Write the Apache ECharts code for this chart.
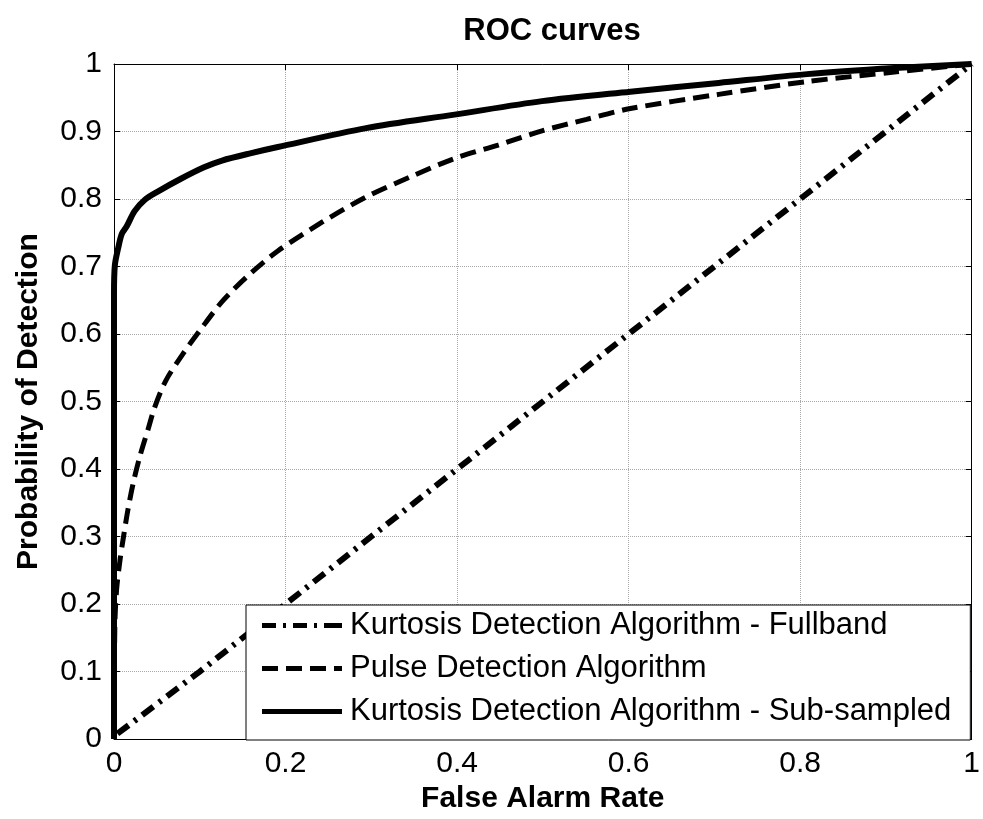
<!DOCTYPE html>
<html>
<head>
<meta charset="utf-8">
<script src="https://cdn.jsdelivr.net/npm/echarts@6/dist/echarts.min.js"></script>
<style>html,body{margin:0;padding:0;background:#fff}#c{width:983px;height:819px}</style>
</head>
<body>
<div id="c"></div>
<script>
const xTicks = [0, 0.2, 0.4, 0.6, 0.8, 1];
const yTicks = [0, 0.1, 0.2, 0.3, 0.4, 0.5, 0.6, 0.7, 0.8, 0.9, 1];
const seriesNames = [
  'Kurtosis Detection Algorithm - Fullband',
  'Pulse Detection Algorithm',
  'Kurtosis Detection Algorithm - Sub-sampled'
];
// Kurtosis Fullband (dash-dot)
const fullbandFA = [0.004, 0.1, 0.2, 0.4, 0.6, 0.8, 1.0];
const fullbandPD = [0.008, 0.1, 0.2, 0.4, 0.6, 0.8, 1.0];
// Pulse Detection (dashed)
const pulseFA = [0, 0.001, 0.003, 0.007, 0.011, 0.016, 0.022, 0.030, 0.040, 0.047, 0.060, 0.080, 0.100, 0.126, 0.155, 0.191, 0.243, 0.294, 0.346, 0.397, 0.448, 0.499, 0.551, 0.602, 0.705, 0.808, 0.910, 1.0];
const pulsePD = [0, 0.168, 0.221, 0.265, 0.299, 0.338, 0.377, 0.418, 0.460, 0.490, 0.530, 0.570, 0.605, 0.648, 0.685, 0.723, 0.766, 0.803, 0.833, 0.860, 0.880, 0.901, 0.918, 0.934, 0.955, 0.974, 0.988, 1.0];
// Kurtosis Sub-sampled (solid)
const subFA = [0, 0, 0, 0.001, 0.005, 0.009, 0.015, 0.024, 0.036, 0.051, 0.078, 0.105, 0.126, 0.160, 0.191, 0.294, 0.397, 0.499, 0.602, 0.705, 0.808, 0.910, 1.0];
const subPD = [0, 0.35, 0.66, 0.702, 0.728, 0.748, 0.760, 0.782, 0.799, 0.811, 0.830, 0.847, 0.857, 0.868, 0.877, 0.905, 0.925, 0.945, 0.959, 0.972, 0.985, 0.994, 1.0];

const zip = (a, b) => a.map((v, i) => [v, b[i]]);
const FONT = 'Liberation Sans';

// legend sample icons (80 x 5 boxes)
const iconDashDot = 'path://M0,0h14v5h-14z M21,0h3v5h-3z M31,0h14v5h-14z M52,0h3v5h-3z M62,0h18v5h-18z';
const iconDashed = 'path://M0,0h16v5h-16z M24,0h16v5h-16z M48,0h16v5h-16z M72,0h8v5h-8z';
const iconSolid = 'path://M0,0h80v5h-80z';

const chart = echarts.init(document.getElementById('c'), null, {renderer: 'canvas'});
const baseAxis = {
  min: 0, max: 1, interval: 0.1,
  axisLine: {show: true, onZero: false, lineStyle: {color: '#000', width: 1}},
  axisTick: {show: true, inside: true, length: 6, lineStyle: {color: '#000', width: 1}},
  splitLine: {show: false}
};
chart.setOption({
  animation: false,
  backgroundColor: '#fff',
  title: {
    text: 'ROC curves', left: 547, top: 11, textAlign: 'center',
    textStyle: {fontFamily: FONT, fontWeight: 'bold', fontSize: 31, color: '#000'}
  },
  grid: {left: 114, top: 64, width: 867, height: 684, containLabel: false},
  legend: {
    orient: 'vertical', left: 246, top: 605,
    data: [
      {name: seriesNames[0], icon: iconDashDot},
      {name: seriesNames[1], icon: iconDashed},
      {name: seriesNames[2], icon: iconSolid}
    ],
    backgroundColor: '#fff', borderColor: '#000', borderWidth: 1, borderRadius: 0,
    padding: [5, 19, 13, 16],
    itemWidth: 80, itemHeight: 5, itemGap: 12,
    itemStyle: {color: '#000', borderWidth: 0},
    textStyle: {fontFamily: FONT, fontSize: 31, color: '#000', lineHeight: 30, padding: [0, 0, 0, 3]},
    selectedMode: false
  },
  xAxis: [
    Object.assign({}, baseAxis, {
      type: 'value', position: 'bottom', interval: 0.2,
      name: 'False Alarm Rate', nameLocation: 'middle', nameGap: 40,
      nameTextStyle: {fontFamily: FONT, fontWeight: 'bold', fontSize: 30, color: '#000'},
      axisLabel: {show: true, margin: 10, fontFamily: FONT, fontSize: 30, color: '#000',
        formatter: v => xTicks.includes(+v.toFixed(1)) ? String(+v.toFixed(1)) : ''},
      splitLine: {show: true, lineStyle: {type: 'dotted', color: '#aaa', width: 1}}
    }),
    Object.assign({}, baseAxis, {
      type: 'value', position: 'top', interval: 0.2,
      axisLabel: {show: false}
    })
  ],
  yAxis: [
    Object.assign({}, baseAxis, {
      type: 'value', position: 'left',
      name: 'Probability of Detection', nameLocation: 'middle', nameGap: 70,
      nameTextStyle: {fontFamily: FONT, fontWeight: 'bold', fontSize: 30, color: '#000'},
      axisLabel: {show: true, margin: 12, fontFamily: FONT, fontSize: 30, color: '#000',
        formatter: v => String(+v.toFixed(1))},
      splitLine: {show: true, lineStyle: {type: 'dotted', color: '#aaa', width: 1}}
    }),
    Object.assign({}, baseAxis, {
      type: 'value', position: 'right',
      axisLabel: {show: false}
    })
  ],
  series: [
    {
      name: seriesNames[0], type: 'line', data: zip(fullbandFA, fullbandPD),
      showSymbol: false, symbol: 'none', smooth: false, z: 3,
      lineStyle: {color: '#000', width: 6, type: [14, 7, 3, 7], cap: 'butt'},
      itemStyle: {color: '#000'}
    },
    {
      name: seriesNames[1], type: 'line', data: zip(pulseFA, pulsePD),
      showSymbol: false, symbol: 'none', smooth: 0.3, z: 3,
      lineStyle: {color: '#000', width: 5, type: [16, 8], cap: 'butt'},
      itemStyle: {color: '#000'}
    },
    {
      name: seriesNames[2], type: 'line', data: zip(subFA, subPD),
      showSymbol: false, symbol: 'none', smooth: 0.3, z: 3,
      lineStyle: {color: '#000', width: 6},
      itemStyle: {color: '#000'}
    }
  ]
});
</script>
</body>
</html>
